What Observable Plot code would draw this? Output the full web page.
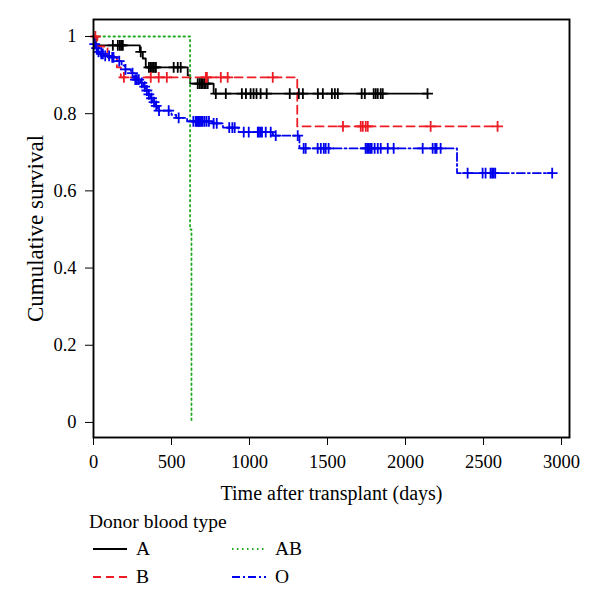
<!DOCTYPE html>
<html>
<head>
<meta charset="utf-8">
<script src="https://cdn.jsdelivr.net/npm/d3@7"></script>
<script src="https://cdn.jsdelivr.net/npm/@observablehq/plot@0.6"></script>
<style>
  body { margin: 0; background: white; }
  #wrap { position: relative; width: 600px; height: 611px; font-family: "Liberation Serif", "DejaVu Serif", serif; color: #000; }
  .lg { position: absolute; font-size: 19.5px; line-height: 1; }
  .sw { position: absolute; }
</style>
</head>
<body>
<div id="wrap"></div>
<script>
// ---- Data ----
const groups = ["A", "B", "AB", "O"];
const colors = ["#000000", "#ee1c24", "#22aa22", "#0000ee"];
const dashes = ["none", "8,5", "1.5,3.5", "8,3,2,3"];

// Kaplan–Meier step times (days) and survival levels
const timesA = [0, 15, 297, 316, 335, 604, 620, 770, 2141];
const survA  = [1, 0.977, 0.96, 0.943, 0.92, 0.899, 0.878, 0.852, 0.852];
const censA  = [124, 156, 169, 178, 188, 303, 355, 365, 375, 385, 395, 400, 514, 540, 559,
                668, 680, 690, 700, 710, 720, 732, 784, 848, 951, 977, 1007, 1026, 1045, 1071,
                1110, 1258, 1316, 1342, 1438, 1470, 1528, 1547, 1566, 1719, 1739, 1796, 1809,
                1822, 1841, 1854, 2141];

const timesB = [0, 25, 90, 150, 175, 1306, 2590];
const survB  = [1, 0.974, 0.947, 0.92, 0.894, 0.767, 0.767];
const censB  = [12, 195, 367, 418, 470, 720, 727, 816, 860, 1149, 1599, 1713, 1726, 1745, 1758, 2161, 2590];

const timesAB = [0, 619, 628];
const survAB  = [1, 0.5, 0];
const censAB  = [];

const timesO = [0, 5, 15, 25, 40, 70, 110, 150, 180, 200, 240, 260, 300, 320, 335, 350, 365, 380,
                395, 410, 500, 530, 600, 760, 830, 930, 1150, 1320, 2330, 2940];
const survO  = [1, 0.98, 0.97, 0.96, 0.955, 0.95, 0.946, 0.936, 0.925, 0.915, 0.905, 0.888, 0.88,
                0.87, 0.86, 0.85, 0.84, 0.83, 0.82, 0.808, 0.797, 0.789, 0.78, 0.775, 0.764, 0.752,
                0.743, 0.71, 0.646, 0.646];
const censO  = [8, 20, 32, 50, 60, 75, 100, 120, 128, 165, 205, 250, 268, 278, 290, 310, 328, 342,
                355, 372, 388, 402, 420, 482, 546, 640, 655, 662, 668, 675, 682, 690, 700, 712, 725,
                740, 770, 790, 870, 890, 905, 963, 995, 1053, 1060, 1070, 1080, 1104, 1136, 1168,
                1309, 1347, 1360, 1437, 1457, 1476, 1488, 1507, 1744, 1754, 1764, 1773, 1783, 1802,
                1822, 1841, 1886, 1924, 2110, 2174, 2190, 2199, 2225, 2398, 2494, 2513, 2545, 2555,
                2565, 2575, 2940];

const xTicks = [0, 500, 1000, 1500, 2000, 2500, 3000];
const yTicks = [0, 0.2, 0.4, 0.6, 0.8, 1];
const xTitle = "Time after transplant (days)";
const yTitle = "Cumulative survival";
const legendTitle = "Donor blood type";

// ---- Build tables ----
const series = [
  {g: "A", t: timesA, s: survA, c: censA},
  {g: "B", t: timesB, s: survB, c: censB},
  {g: "AB", t: timesAB, s: survAB, c: censAB},
  {g: "O", t: timesO, s: survO, c: censO}
];
function levelAt(t, s, x) {
  let v = s[0];
  for (let i = 0; i < t.length; i++) if (t[i] <= x) v = s[i];
  return v;
}
const plusSym = {
  draw(ctx, size) {
    const r = Math.sqrt(size / Math.PI);
    ctx.moveTo(-r, 0); ctx.lineTo(r, 0);
    ctx.moveTo(0, -r); ctx.lineTo(0, r);
  }
};

const marks = [];
series.forEach((sr, i) => {
  const pts = sr.t.map((t, k) => ({t, s: sr.s[k]}));
  marks.push(Plot.line(pts, {
    x: "t", y: "s", curve: "step-after",
    stroke: colors[i], strokeWidth: 1.8,
    strokeDasharray: dashes[i] === "none" ? null : dashes[i]
  }));
});
series.forEach((sr, i) => {
  const cs = sr.c.map(t => ({t, s: levelAt(sr.t, sr.s, t)}));
  if (cs.length) marks.push(Plot.dot(cs, {
    x: "t", y: "s", symbol: plusSym, r: 5.4,
    stroke: colors[i], strokeWidth: 1.8, fill: "none"
  }));
});

const chart = Plot.plot({
  width: 600,
  height: 510,
  marginLeft: 93,
  marginRight: 31,
  marginTop: 19,
  marginBottom: 73,
  style: {fontFamily: "'Liberation Serif', 'DejaVu Serif', serif", fontSize: "18.5px", background: "white", color: "#000"},
  x: {domain: [0, 3051]},
  y: {domain: [-0.039, 1.044]},
  marks: [
    ...marks,
    Plot.frame({stroke: "#000", strokeWidth: 1.9}),
    Plot.axisX({ticks: xTicks, tickSize: 8, tickPadding: 9, tickFormat: d => String(d), label: null, fontSize: 18.5}),
    Plot.axisY({ticks: yTicks, tickSize: 8, tickPadding: 9, tickFormat: d => String(+d.toFixed(1)), label: null, fontSize: 18.5}),
    Plot.text([xTitle], {frameAnchor: "bottom", dy: 56, lineAnchor: "middle", textAnchor: "middle", fontSize: 20, fill: "#000"}),
    Plot.text([yTitle], {frameAnchor: "left", dx: -58, rotate: -90, lineAnchor: "middle", textAnchor: "middle", fontSize: 23, fill: "#000"})
  ]
});

const wrap = document.getElementById("wrap");
wrap.appendChild(chart);

// ---- Legend (HTML below the SVG) ----
function addText(txt, left, top) {
  const d = document.createElement("div");
  d.className = "lg"; d.textContent = txt;
  d.style.left = left + "px"; d.style.top = top + "px";
  wrap.appendChild(d);
}
function addSwatch(i, left, cy) {
  const ns = "http://www.w3.org/2000/svg";
  const s = document.createElementNS(ns, "svg");
  s.setAttribute("width", 36); s.setAttribute("height", 6);
  s.setAttribute("class", "sw");
  s.style.left = left + "px"; s.style.top = (cy - 3) + "px";
  const l = document.createElementNS(ns, "line");
  l.setAttribute("x1", 0); l.setAttribute("x2", 34);
  l.setAttribute("y1", 3); l.setAttribute("y2", 3);
  l.setAttribute("stroke", colors[i]); l.setAttribute("stroke-width", 1.8);
  if (dashes[i] !== "none") l.setAttribute("stroke-dasharray", dashes[i]);
  s.appendChild(l);
  wrap.appendChild(s);
}
addText(legendTitle, 89, 512);
const legPos = [[93, 549], [93, 577], [232, 549], [232, 577]];
groups.forEach((g, i) => {
  addSwatch(i, legPos[i][0], legPos[i][1]);
  addText(g, legPos[i][0] + 43, legPos[i][1] - 10);
});
</script>
</body>
</html>
